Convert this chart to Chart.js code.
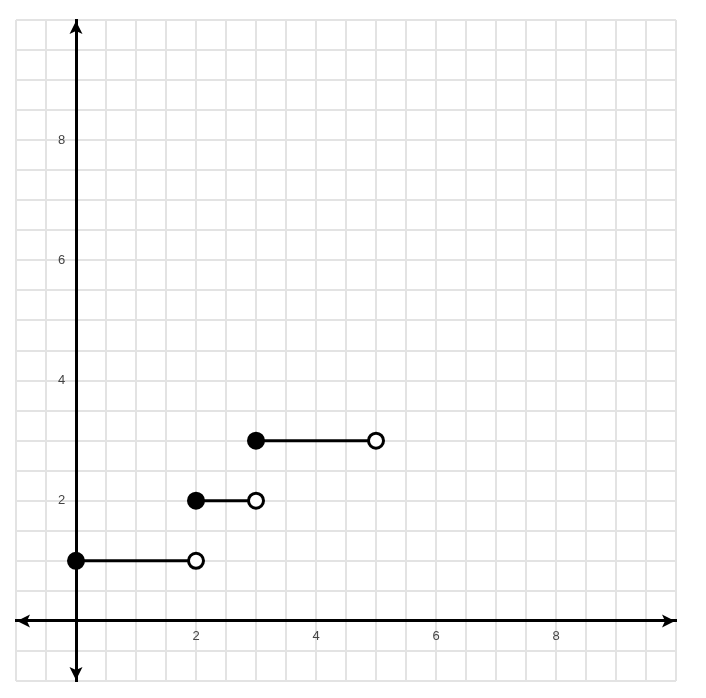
<!DOCTYPE html>
<html>
<head>
<meta charset="utf-8">
<script src="https://cdn.jsdelivr.net/npm/chart.js@4"></script>
<style>
  html, body { margin: 0; padding: 0; background: #fff; }
  #wrap { width: 706px; height: 698px; }
</style>
</head>
<body>
<div id="wrap"><canvas id="chart"></canvas></div>
<script>
// step segments: closed dot at start, open dot at end
const segStartX = [0, 2, 3]
const segEndX = [2, 3, 5]
const segY = [1, 2, 3]

const axisMin = -1
const axisMax = 10
const gridStep = 0.5
const tickLabels = [2, 4, 6, 8]

const datasets = segY.map((y, i) => ({
  data: [{ x: segStartX[i], y: y }, { x: segEndX[i], y: y }],
  showLine: true,
  borderColor: "#000",
  borderWidth: 3,
  pointRadius: 7.5,
  pointBorderWidth: 3,
  pointBorderColor: "#000",
  pointBackgroundColor: ["#000", "#fff"],
}))

// arrowheads at the ends of both axes
function arrow(ctx, tx, ty, dx, dy) {
  const len = 13, half = 6.5, notch = 3
  const px = -dy, py = dx
  const bx = tx - dx * len, by = ty - dy * len
  ctx.beginPath()
  ctx.moveTo(tx, ty)
  ctx.lineTo(bx + px * half, by + py * half)
  ctx.lineTo(tx - dx * (len - notch), ty - dy * (len - notch))
  ctx.lineTo(bx - px * half, by - py * half)
  ctx.closePath()
  ctx.fill()
}

const arrowPlugin = {
  id: "axisArrows",
  afterDraw(chart) {
    const ctx = chart.ctx
    const xs = chart.scales.x
    const ys = chart.scales.y
    const x0 = xs.getPixelForValue(0)
    const y0 = ys.getPixelForValue(0)
    ctx.save()
    ctx.fillStyle = "#000"
    arrow(ctx, xs.getPixelForValue(axisMin) + 1, y0, -1, 0)
    arrow(ctx, xs.getPixelForValue(axisMax) - 1, y0, 1, 0)
    arrow(ctx, x0, ys.getPixelForValue(axisMax) + 1, 0, -1)
    arrow(ctx, x0, ys.getPixelForValue(axisMin) - 1, 0, 1)
    ctx.restore()
  },
}

const labelCb = (v) => (tickLabels.includes(v) ? String(v) : "")
// y labels sit right against the axis line, so pad them with trailing spaces
const yLabelCb = (v) => (tickLabels.includes(v) ? String(v) + "   " : "")

new Chart(document.getElementById("chart"), {
  type: "scatter",
  data: { datasets },
  plugins: [arrowPlugin],
  options: {
    responsive: true,
    maintainAspectRatio: false,
    animation: false,
    layout: { padding: { left: 16, right: 30, top: 20, bottom: 17 } },
    plugins: { legend: { display: false }, tooltip: { enabled: false } },
    scales: {
      x: {
        type: "linear",
        position: { y: 0 },
        min: axisMin,
        max: axisMax,
        grid: { color: "#e3e3e3", lineWidth: 2, drawTicks: false },
        border: { color: "#000", width: 3 },
        ticks: {
          stepSize: gridStep,
          autoSkip: false,
          maxRotation: 0,
          padding: 8,
          color: "#444",
          font: { family: "Arial", size: 13 },
          callback: labelCb,
        },
      },
      y: {
        type: "linear",
        position: { x: 0 },
        min: axisMin,
        max: axisMax,
        grid: { color: "#e3e3e3", lineWidth: 2, drawTicks: false },
        border: { color: "#000", width: 3 },
        ticks: {
          stepSize: gridStep,
          autoSkip: false,
          padding: 5,
          color: "#444",
          font: { family: "Arial", size: 13 },
          callback: yLabelCb,
        },
      },
    },
  },
})
</script>
</body>
</html>
